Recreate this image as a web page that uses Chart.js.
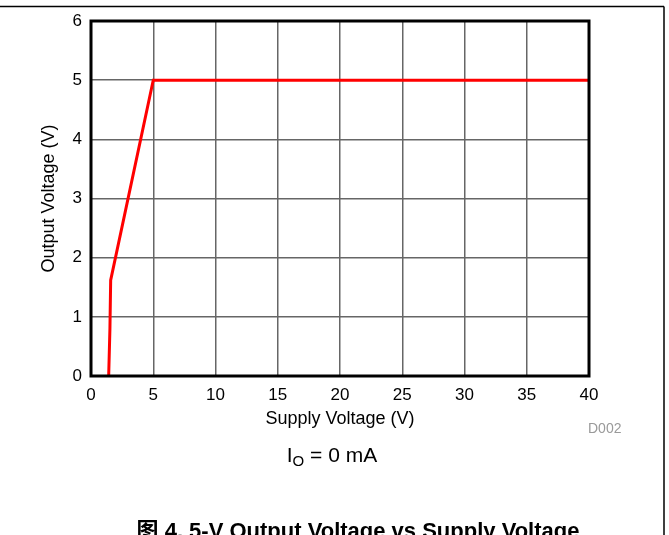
<!DOCTYPE html>
<html>
<head>
<meta charset="utf-8">
<script src="https://cdn.jsdelivr.net/npm/chart.js@4/dist/chart.umd.min.js"></script>
<style>
  html, body { margin: 0; padding: 0; background: #ffffff; }
  #wrap { position: relative; width: 669px; height: 535px; overflow: hidden; }
  canvas { display: block; }
</style>
</head>
<body>
<div id="wrap"><canvas id="c" width="669" height="535"></canvas></div>
<script>
// Output voltage of the 5-V regulator versus its supply voltage (no load)
const supplyVoltage = [1.42, 1.52, 1.58, 5, 40];
const outputVoltage = [0, 0.8, 1.62, 5, 5];

const xTicks = [0, 5, 10, 15, 20, 25, 30, 35, 40];
const yTicks = [0, 1, 2, 3, 4, 5, 6];

const xTitle = 'Supply Voltage (V)';
const yTitle = 'Output Voltage (V)';
const codeLabel = 'D002';
const conditionMain = 'I';
const conditionSub = 'O';
const conditionRest = ' = 0 mA';
const caption = '图 4. 5-V Output Voltage vs Supply Voltage';

const FONT = "'Liberation Sans', Arial, 'Noto Sans CJK SC', sans-serif";

const points = supplyVoltage.map((v, i) => ({ x: v, y: outputVoltage[i] }));

// Frame of the plot area, page rules and the text below the axes
const decorations = {
  id: 'decorations',
  afterDraw(chart) {
    const { ctx, chartArea: a } = chart;
    ctx.save();
    // plot border
    ctx.strokeStyle = '#000000';
    ctx.lineWidth = 3;
    ctx.strokeRect(a.left, a.top, a.right - a.left, a.bottom - a.top);

    // page rules (top and right)
    ctx.lineWidth = 1.5;
    ctx.beginPath();
    ctx.moveTo(0, 6.5);
    ctx.lineTo(664, 6.5);
    ctx.moveTo(664, 6.5);
    ctx.lineTo(664, 535);
    ctx.stroke();

    // figure code
    ctx.fillStyle = '#9a9a9a';
    ctx.font = '14px ' + FONT;
    ctx.textAlign = 'left';
    ctx.textBaseline = 'middle';
    ctx.fillText(codeLabel, 588, 429);

    // test condition with subscript
    ctx.fillStyle = '#000000';
    ctx.textBaseline = 'alphabetic';
    ctx.font = '21px ' + FONT;
    const wI = ctx.measureText(conditionMain).width;
    ctx.font = '15px ' + FONT;
    const wO = ctx.measureText(conditionSub).width;
    ctx.font = '21px ' + FONT;
    const wR = ctx.measureText(conditionRest).width;
    let x = 332 - (wI + wO + wR) / 2;
    const base = 462;
    ctx.fillText(conditionMain, x, base);
    x += wI;
    ctx.font = '15px ' + FONT;
    ctx.fillText(conditionSub, x, base + 4);
    x += wO;
    ctx.font = '21px ' + FONT;
    ctx.fillText(conditionRest, x, base);

    // caption (runs off the bottom edge)
    ctx.font = 'bold 22px ' + FONT;
    ctx.textAlign = 'center';
    ctx.fillText(caption, 358, 538);
    ctx.restore();
  }
};

new Chart(document.getElementById('c'), {
  type: 'line',
  data: {
    datasets: [{
      data: points,
      borderColor: '#ff0000',
      borderWidth: 3,
      pointRadius: 0,
      tension: 0,
      fill: false
    }]
  },
  options: {
    responsive: false,
    animation: false,
    layout: { padding: { top: 21, right: 80, left: 0, bottom: 0 } },
    plugins: { legend: { display: false }, tooltip: { enabled: false } },
    scales: {
      x: {
        type: 'linear',
        min: 0, max: 40,
        afterBuildTicks(scale) { scale.ticks = xTicks.map(v => ({ value: v })); },
        afterFit(scale) { scale.height = 159; },
        grid: { color: '#666666', lineWidth: 1.5, drawTicks: false },
        border: { display: false },
        ticks: { color: '#000000', padding: 9, font: { family: FONT, size: 17 }, maxRotation: 0 },
        title: { display: true, text: xTitle, color: '#000000', font: { family: FONT, size: 18 }, padding: { top: 0, bottom: 105 } }
      },
      y: {
        type: 'linear',
        min: 0, max: 6,
        afterBuildTicks(scale) { scale.ticks = yTicks.map(v => ({ value: v })); },
        afterFit(scale) { scale.width = 91; },
        grid: { color: '#666666', lineWidth: 1.5, drawTicks: false },
        border: { display: false },
        ticks: { color: '#000000', padding: 9, font: { family: FONT, size: 17 } },
        title: { display: true, text: yTitle, color: '#000000', font: { family: FONT, size: 18 }, padding: { top: 38, bottom: 0 } }
      }
    }
  },
  plugins: [decorations]
});
</script>
</body>
</html>
